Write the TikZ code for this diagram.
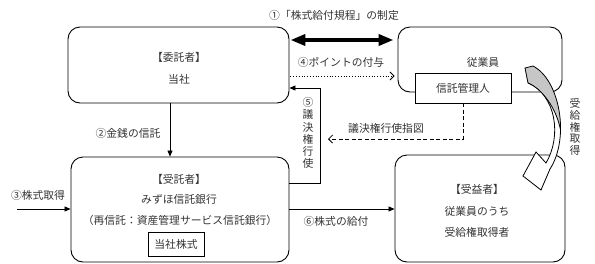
\documentclass[tikz,border=0pt]{standalone}
\usepackage{fontspec}
\setmainfont{Noto Sans CJK JP}
\usetikzlibrary{arrows.meta}
\begin{document}
\begin{tikzpicture}[x=1pt,y=-1pt,
  font=\fontsize{10.8}{12.2}\selectfont,
  every node/.style={text=black!80},
  rbox/.style={draw, line width=0.9pt, rounded corners=12pt, inner sep=0pt},
  sqbox/.style={draw, line width=0.8pt, fill=white, inner sep=0pt},
  lbl/.style={inner sep=0pt},
  arr/.style={line width=0.8pt, -{Triangle[length=6pt,width=5pt]}},
  barb/.style={line width=0.8pt, -{Straight Barb[length=4pt,width=8pt]}}]
\useasboundingbox (0,0) rectangle (595,263);

% helper levels
\coordinate (y40) at (0,40);
\coordinate (y76) at (0,76);
\coordinate (y88) at (0,88);
\coordinate (y183) at (0,183);
\coordinate (y209) at (0,209);

% boxes
\node[rbox, minimum width=221pt, minimum height=76pt] (itaku) at (178.5,65) {};
\node[lbl] (itakuA) at (179,57) {【委託者】};
\node[lbl] (itakuB) at (179,79) {当社};

\node[rbox, minimum width=164pt, minimum height=65pt] (jugyo) at (480,59.5) {};
\node[lbl] (jugyoA) at (483,62) {従業員};
\node[sqbox, minimum width=96pt, minimum height=30pt] (kanri) at (463,88) {信託管理人};

\node[rbox, minimum width=218pt, minimum height=105pt] (jutaku) at (180,209.5) {};
\node[lbl] (jutakuA) at (179,179) {【受託者】};
\node[lbl] (jutakuB) at (179,199) {みずほ信託銀行};
\node[lbl] (jutakuC) at (180,220) {（再信託：資産管理サービス信託銀行）};
\node[sqbox, minimum width=56pt, minimum height=24pt] (kabu) at (176,244) {当社株式};

\node[rbox, minimum width=170pt, minimum height=107pt] (jueki) at (480,208.5) {};
\node[lbl] (juekiA) at (477,189) {【受益者】};
\node[lbl] (juekiB) at (477,211) {従業員のうち};
\node[lbl] (juekiC) at (477,232) {受給権取得者};

% connectors
\draw[line width=4pt, {Triangle[length=15pt,width=11pt]}-{Triangle[length=15pt,width=11pt]}]
  ([xshift=1pt]itaku.east |- y40) -- ([xshift=-4pt]jugyo.west |- y40);
\node[lbl] (l1) at (334,15) {①「株式給付規程」の制定};

\draw[barb, dotted] ([xshift=1pt]itaku.east |- y76) -- ([xshift=-3pt]jugyo.west |- y76);
\node[lbl] (l4) at (341,62) {④ポイントの付与};

\draw[arr] (jutaku.east |- y183) -- ++(31,0) |- (itaku.east |- y88);
\node[lbl, align=center] (l5) at (308,133) {⑤\\議\\決\\権\\行\\使};

\coordinate (dtip) at (328,139);
\draw[barb, dash pattern=on 4pt off 2.5pt] (kanri.south) |- (dtip);
\node[lbl] (l5b) at (386,128) {議決権行使指図};

\draw[arr] ([xshift=-8.5pt]itaku.south) -- ([xshift=-10pt]jutaku.north);
\node[lbl] (l2) at (128,133) {②金銭の信託};

\coordinate (src3) at (17,209);
\draw[arr] (src3) -- (jutaku.west |- src3);
\node[lbl] (l3) at (38,195) {③株式取得};

\draw[arr] (jutaku.east |- y209) -- (jueki.west |- y209);
\node[lbl] (l6) at (336,221) {⑥株式の給付};

% curved arrow
\def\arrowshape{(525,68) -- (533,66) .. controls (560,80) and (570,138) .. (550,169) -- (541,190) -- (523,176) -- (536,152) -- (546,163) .. controls (562,136) and (556,95) .. (528,83) -- cycle}
\fill[white] \arrowshape;
\begin{scope}
  \clip \arrowshape;
  \fill[gray!45] (515,55) -- (585,55) -- (585,135) -- (561.5,135) .. controls (558,112) and (546,92) .. (528,83) -- (515,83) -- cycle;
  \draw[line width=0.8pt] (561.5,135) .. controls (558,112) and (546,92) .. (528,83);
\end{scope}
\draw[line width=0.8pt, line join=miter] \arrowshape;
\node[lbl, align=center, font=\fontsize{10.8}{11.7}\selectfont] (l7) at (575,127) {受\\給\\権\\取\\得};
\end{tikzpicture}
\end{document}
